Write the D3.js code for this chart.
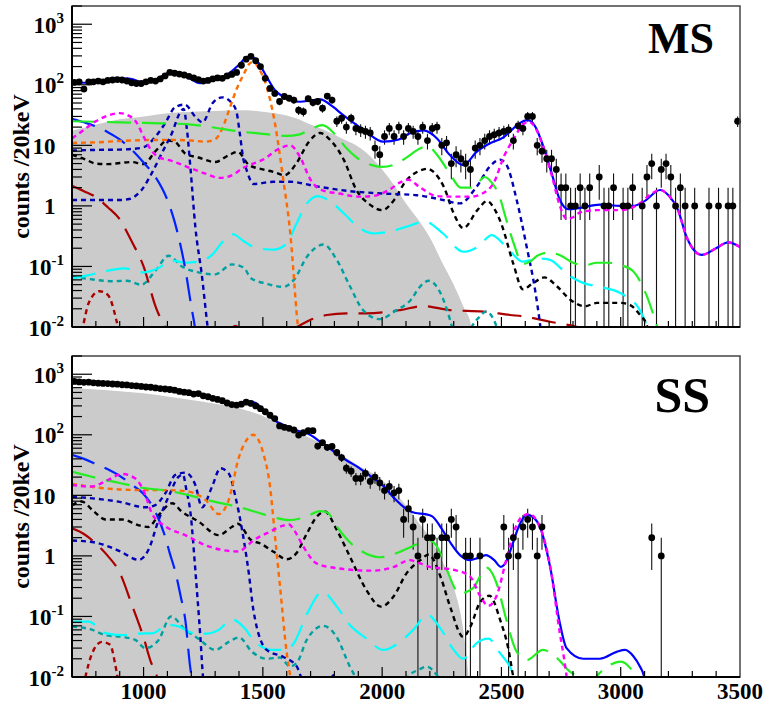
<!DOCTYPE html>
<html>
<head>
<meta charset="utf-8">
<script src="https://cdn.jsdelivr.net/npm/d3@7/dist/d3.min.js"></script>
<style>
  html, body { margin: 0; padding: 0; background: #fff; }
  svg text { font-family: "Liberation Serif", "Times New Roman", Times, serif; font-weight: bold; fill: #000; }
</style>
</head>
<body>
<svg id="chart" width="766" height="704"></svg>
<script>
// ---------- axis definitions ----------
const energyRange = [700, 3500];            // keV
const countRange = [0.01, 2000];            // counts / 20 keV (log)
const xMajorTicks = [1000, 1500, 2000, 2500, 3000, 3500];
const xMinorTicks = d3.range(800, 3500, 100);
const yDecades = [0.01, 0.1, 1, 10, 100, 1000];
const yDecadeBase = ["10", "10", "1", "10", "10", "10"];
const yDecadeExp = ["-2", "-1", "", "", "2", "3"];
const yAxisTitle = "counts /20keV";
const panelLabels = ["MS", "SS"];

// ---------- measured counts per 20 keV bin (bins centred at 710, 730, ... 3490 keV) ----------
const binCenters = d3.range(710, 3500, 20);
const countsMS = [
  110,112,85,112,112,115,112,118,120,122,
  120,115,108,105,105,112,118,115,125,140,
  160,155,150,145,138,130,122,115,118,125,
  130,128,140,148,160,210,265,295,250,200,
  128,87,72,53,64,60,56,38,36,59,
  51,53,41,65,56,25,28,20,28,19,
  18,17,16,9,7,14,19,14,20,14,
  19,17,14,20,12,19,20,10,11,5,
  7,6,5,4,9,10,12,14,15,16,
  17,18,12,21,19,30,30,10,8,6,
  6,4,2,2,1,1,2,1,2,0,
  3,1,1,2,0,1,1,2,0,1,
  3,5,1,4,5,3,1,2,1,0,
  1,0,0,1,0,1,0,1,1,25
];
const countsSS = [
  760,745,735,740,720,712,705,700,690,685,
  670,665,650,640,630,615,610,595,580,570,
  560,545,520,505,495,470,480,440,425,400,
  383,365,335,315,310,320,345,330,300,270,
  240,210,185,140,133,128,120,99,108,117,
  117,65,74,62,64,51,42,28,25,19,
  19,23,17,20,16,12,14,11,12,4,
  6,3,1,4,2,2,1,2,2,4,
  3,0,1,1,0,1,0,0,0,0,
  3,1,2,1,3,4,3,1,3,0,
  0,0,0,0,0,0,0,0,0,0,
  0,0,0,0,0,0,0,0,0,0,
  0,2,0,1,0,0,0,0,0,0,
  0,0,0,0,0,0,0,0,0,0
];

// ---------- fitted model curves, MS panel: [energy keV, counts/20keV] ----------
const msGray = [[700,17.5],[750,19.5],[800,22],[850,24.5],[900,27],[950,28.5],[1000,30],[1100,34],[1200,36],[1300,37],[1400,38],[1450,37.5],[1500,36],[1550,34],[1600,31],[1650,27],[1700,22],[1750,18.5],[1800,15],[1850,12],[1900,9.5],[1950,6.6],[2000,4.0],[2050,2.2],[2100,1.1],[2150,0.6],[2200,0.3],[2250,0.12],[2300,0.05],[2340,0.022],[2375,0.01],[2390,0.004]];
const msTotal = [[700,112],[750,108],[800,108],[850,115],[900,124],[930,128],[970,118],[1000,106],[1050,122],[1100,155],[1125,164],[1175,140],[1237,106],[1290,120],[1348,145],[1400,215],[1432,285],[1450,295],[1480,235],[1516,136],[1550,82],[1586,63],[1620,55],[1656,52.5],[1700,55],[1740,57.5],[1795,43],[1830,33],[1865,26],[1930,17],[2005,11.5],[2070,12.5],[2117,15.8],[2173,17.6],[2230,13],[2284,6.9],[2340,4.7],[2396,7.8],[2452,10.8],[2508,13.5],[2540,17.5],[2575,23],[2610,26],[2640,21],[2675,9.8],[2710,3.5],[2745,1.26],[2780,0.88],[2830,0.93],[2913,1.05],[3000,1.0],[3053,1.0],[3100,1.2],[3165,1.83],[3200,1.5],[3240,0.86],[3277,0.3],[3340,0.155],[3400,0.2],[3450,0.25],[3500,0.21]];
const msGreen = [[700,25],[800,24.5],[900,24],[1000,23.5],[1100,23],[1200,22],[1300,19.5],[1400,17],[1500,15.5],[1600,14.3],[1650,15],[1700,18.5],[1750,21.5],[1800,15.5],[1850,9],[1900,6],[1950,4.8],[2000,4.4],[2050,4.8],[2100,6.2],[2150,8.5],[2190,9.7],[2230,7],[2280,3.6],[2330,2.0],[2380,2.0],[2430,3.0],[2460,2.4],[2490,1.5],[2520,0.6],[2550,0.25],[2590,0.11],[2620,0.12],[2650,0.15],[2700,0.17],[2750,0.15],[2800,0.115],[2850,0.105],[2900,0.115],[2950,0.115],[3000,0.105],[3050,0.085],[3100,0.04],[3150,0.011],[3165,0.007]];
const msOrange = [[700,11],[800,11.2],[900,11.8],[1000,12.2],[1100,12.3],[1200,12],[1260,11.5],[1300,12.6],[1330,19],[1360,40],[1390,85],[1420,150],[1445,225],[1460,240],[1480,195],[1515,95],[1550,24],[1585,2.8],[1615,0.35],[1645,0.012],[1655,0.005]];
const msNavyA = [[700,8.2],[800,8.4],[900,8.5],[950,8.7],[1000,9.3],[1050,13.9],[1090,23],[1133,43],[1173,47],[1217,29.7],[1247,24],[1290,50],[1330,62],[1371,49],[1390,35],[1404,15],[1418,6],[1432,3.9],[1460,2.3],[1544,2.5],[1614,2.5],[1726,2.1],[1865,1.75],[2005,1.6],[2145,1.5],[2256,1.25],[2326,1.1],[2396,2.07],[2452,4.5],[2494,5.8],[2522,4.7],[2564,1.25],[2606,0.21],[2641,0.041],[2662,0.011],[2670,0.006]];
const msNavyB = [[700,1.25],[800,1.25],[900,1.25],[940,1.3],[990,1.8],[1035,3.5],[1077,7.5],[1119,16],[1150,33],[1168,40],[1182,18],[1197,4],[1217,0.45],[1245,0.068],[1266,0.012],[1275,0.006]];
const msBlueLong = [[700,27.5],[750,24],[800,20.5],[850,16.5],[900,12.5],[950,8.5],[1000,5.2],[1050,3.0],[1100,1.25],[1130,0.55],[1150,0.27],[1175,0.09],[1200,0.022],[1215,0.01],[1225,0.005]];
const msRedLong = [[700,2.15],[750,1.75],[800,1.4],[850,0.95],[900,0.6],[950,0.26],[1000,0.1],[1050,0.022],[1090,0.01],[1150,0.006],[1300,0.007],[1365,0.0095],[1385,0.0104],[1405,0.0095],[1500,0.007],[1600,0.0085],[1642,0.01],[1698,0.013],[1768,0.0158],[1850,0.0168],[1935,0.0168],[2075,0.019],[2173,0.0222],[2284,0.019],[2424,0.018],[2536,0.0158],[2592,0.015],[2704,0.0122],[2815,0.0101],[2840,0.0095]];
const msRedDot = [[730,0.006],[745,0.01],[770,0.025],[815,0.039],[850,0.034],[882,0.015],[892,0.01],[900,0.006]];
const msCyan = [[700,0.063],[770,0.072],[870,0.088],[920,0.093],[1000,0.08],[1060,0.093],[1120,0.125],[1175,0.115],[1230,0.12],[1290,0.16],[1330,0.25],[1375,0.34],[1420,0.26],[1475,0.2],[1545,0.19],[1600,0.24],[1640,0.5],[1685,1.1],[1730,1.45],[1780,1.2],[1840,0.75],[1905,0.43],[1965,0.35],[2020,0.37],[2100,0.45],[2180,0.55],[2255,0.35],[2340,0.175],[2400,0.21],[2460,0.33],[2520,0.21],[2590,0.12],[2650,0.135],[2700,0.13],[2780,0.072],[2850,0.052],[2900,0.047],[3000,0.036],[3080,0.019],[3110,0.01],[3120,0.007]];
const msTeal = [[700,0.068],[800,0.06],[870,0.057],[930,0.058],[990,0.05],[1050,0.085],[1105,0.15],[1160,0.1],[1230,0.08],[1300,0.074],[1370,0.108],[1420,0.095],[1450,0.064],[1515,0.052],[1585,0.046],[1630,0.06],[1685,0.145],[1755,0.23],[1810,0.128],[1865,0.047],[1920,0.019],[1990,0.0135],[2060,0.019],[2120,0.028],[2160,0.047],[2195,0.058],[2245,0.036],[2285,0.013],[2300,0.008],[2340,0.005],[2375,0.01],[2410,0.015],[2435,0.018],[2460,0.015],[2480,0.01],[2495,0.006]];
const msBlack = [[700,7],[750,6],[800,5],[850,4.9],[900,5.1],[950,5.3],[1000,4.9],[1050,8],[1100,12],[1130,11.5],[1175,7.3],[1230,6.3],[1300,5.3],[1360,7],[1395,7.8],[1440,4.8],[1500,4.0],[1550,3.6],[1590,3.2],[1640,5],[1690,11],[1740,16],[1780,12.5],[1840,5.7],[1890,1.9],[1950,1.04],[2000,0.85],[2050,1.25],[2100,2.6],[2150,3.7],[2190,4.1],[2220,3.5],[2260,2.0],[2300,0.75],[2340,0.43],[2400,0.86],[2440,1.2],[2470,0.9],[2500,0.5],[2550,0.11],[2590,0.042],[2630,0.052],[2680,0.066],[2730,0.048],[2790,0.028],[2850,0.022],[2900,0.025],[2950,0.025],[3000,0.025],[3040,0.023],[3080,0.016],[3110,0.0105],[3120,0.007]];
const msMagenta = [[700,13],[750,18],[800,25],[850,31],[900,34],[930,32],[970,24],[1000,14],[1030,8.5],[1060,6.5],[1120,5.5],[1190,4.3],[1260,3.4],[1320,2.9],[1370,3.2],[1420,4.3],[1460,5],[1500,5.8],[1570,8.9],[1615,10],[1655,6.5],[1700,2.7],[1750,1.8],[1820,1.6],[1900,1.42],[1960,1.45],[2030,1.85],[2080,2.5],[2110,2.7],[2160,2.0],[2230,1.45],[2300,1.42],[2370,1.42],[2420,1.6],[2470,2.5],[2510,6.5],[2550,12.5],[2590,22],[2615,24.5],[2640,20],[2675,9.5],[2710,3.3],[2745,1.0],[2775,0.6],[2800,0.65],[2830,0.78],[2900,0.85],[3000,0.85],[3080,1.1],[3130,1.6],[3165,1.83],[3200,1.5],[3240,0.86],[3277,0.3],[3340,0.155],[3400,0.2],[3450,0.25],[3500,0.21]];

// ---------- fitted model curves, SS panel ----------
const ssGray = [[700,590],[800,560],[900,525],[1000,484],[1100,430],[1200,375],[1300,325],[1400,275],[1450,241],[1500,205],[1600,130],[1700,88],[1800,55],[1865,38],[1900,31],[2000,18],[2050,11.5],[2100,6.8],[2150,3.7],[2200,2.0],[2250,0.85],[2300,0.3],[2340,0.06],[2355,0.02],[2362,0.01],[2370,0.004]];
const ssTotal = [[700,753],[800,720],[900,680],[1000,622],[1100,560],[1200,480],[1237,454],[1300,390],[1376,310],[1410,322],[1440,352],[1465,340],[1500,265],[1544,178],[1600,138],[1650,115],[1690,104],[1750,72],[1800,52],[1850,38],[1900,29],[1950,21],[2000,15],[2050,9],[2100,6],[2140,5.1],[2180,4.9],[2210,4.5],[2250,2.8],[2284,1.7],[2330,1.0],[2368,0.85],[2400,0.92],[2435,1.03],[2470,0.85],[2497,0.66],[2520,0.8],[2545,1.5],[2575,3.2],[2606,4.8],[2635,4.3],[2662,3.0],[2704,0.66],[2745,0.077],[2773,0.03],[2843,0.02],[2913,0.02],[2983,0.026],[3018,0.028],[3053,0.022],[3080,0.015],[3097,0.0105],[3105,0.007]];
const ssGreen = [[700,24.6],[800,19.5],[900,16],[1000,13.2],[1100,12],[1200,9.8],[1300,7.8],[1400,6.4],[1500,4.9],[1550,4.3],[1610,3.9],[1680,4.4],[1740,5.5],[1770,5.2],[1820,2.7],[1870,1.6],[1910,1.22],[1990,0.95],[2075,1.17],[2145,1.55],[2190,1.85],[2230,1.42],[2270,0.6],[2325,0.24],[2380,0.29],[2438,0.64],[2480,0.35],[2520,0.09],[2560,0.028],[2605,0.019],[2675,0.028],[2730,0.021],[2790,0.012],[2830,0.0098],[2870,0.008],[2910,0.0115],[2955,0.0158],[3000,0.018],[3040,0.014],[3060,0.0105],[3080,0.007]];
const ssOrange = [[700,15.5],[800,13.5],[900,12.5],[1000,12.2],[1100,12.2],[1190,11.5],[1260,8.4],[1315,4.9],[1357,8.4],[1400,43],[1440,90],[1460,100],[1480,85],[1502,49],[1530,14],[1551,2.1],[1572,0.31],[1600,0.025],[1615,0.01],[1625,0.005]];
const ssNavyA = [[700,9.5],[800,8.8],[900,7.8],[1007,6.35],[1049,6.9],[1091,10.8],[1133,21.7],[1175,23.7],[1217,14.8],[1245,6.35],[1287,13.9],[1322,28],[1357,23],[1385,9.5],[1413,2.68],[1441,0.52],[1460,0.13],[1516,0.028],[1586,0.0214],[1642,0.015],[1660,0.01],[1700,0.006],[1770,0.008],[1800,0.0108],[1830,0.008],[1860,0.005]];
const ssNavyB = [[700,1.8],[800,1.65],[900,1.2],[980,0.86],[1020,1.25],[1063,3.9],[1105,9.5],[1145,20],[1165,22],[1180,12],[1197,5],[1217,0.58],[1238,0.046],[1250,0.009],[1258,0.005]];
const ssBlueLong = [[700,46.5],[750,40],[800,33],[850,27],[900,21],[950,15],[1000,10.5],[1050,5.3],[1090,2.1],[1110,1.1],[1133,0.55],[1155,0.22],[1175,0.087],[1195,0.015],[1205,0.008]];
const ssRedLong = [[700,2.85],[750,2.3],[800,1.6],[850,1.0],[900,0.53],[950,0.16],[1000,0.045],[1030,0.018],[1055,0.0105],[1065,0.007]];
const ssRedDot = [[740,0.005],[756,0.01],[785,0.025],[825,0.038],[860,0.034],[880,0.017],[892,0.009],[900,0.005]];
const ssCyan = [[700,0.082],[770,0.082],[840,0.053],[910,0.049],[980,0.052],[1040,0.053],[1100,0.073],[1150,0.068],[1200,0.054],[1260,0.052],[1315,0.06],[1370,0.089],[1425,0.063],[1460,0.041],[1540,0.028],[1590,0.028],[1630,0.036],[1685,0.11],[1750,0.255],[1810,0.145],[1865,0.072],[1935,0.043],[2005,0.028],[2075,0.038],[2130,0.06],[2190,0.106],[2245,0.063],[2300,0.028],[2340,0.02],[2395,0.036],[2445,0.043],[2495,0.0245],[2535,0.015],[2555,0.0098],[2570,0.007]];
const ssTeal = [[700,0.068],[785,0.06],[840,0.049],[910,0.046],[965,0.041],[1007,0.03],[1063,0.041],[1115,0.1],[1175,0.06],[1230,0.043],[1300,0.028],[1357,0.038],[1400,0.045],[1455,0.026],[1516,0.02],[1572,0.021],[1614,0.015],[1642,0.017],[1684,0.041],[1753,0.07],[1809,0.046],[1865,0.0148],[1890,0.0098],[1950,0.005],[2080,0.007],[2117,0.011],[2150,0.013],[2187,0.0148],[2229,0.0108],[2250,0.008]];
const ssBlack = [[700,6.9],[740,7.9],[790,5.5],[840,4.0],[910,4.0],[980,3.2],[1020,3.0],[1063,4.7],[1120,7.4],[1160,5.4],[1230,3.7],[1315,2.2],[1370,3.0],[1395,3.4],[1450,1.83],[1490,1.6],[1545,1.17],[1600,0.88],[1640,1.1],[1685,2.36],[1725,4.4],[1760,5.4],[1810,2.68],[1865,0.97],[1935,0.27],[1995,0.145],[2050,0.22],[2100,0.5],[2160,0.85],[2195,1.05],[2245,0.45],[2285,0.145],[2340,0.046],[2370,0.068],[2410,0.17],[2450,0.22],[2495,0.087],[2530,0.028],[2550,0.01],[2560,0.007]];
const ssMagenta = [[700,14.8],[780,14],[850,17.9],[910,22.5],[965,19],[1005,10.8],[1035,5],[1090,3.1],[1175,2.2],[1260,1.5],[1330,1.25],[1400,1.18],[1430,1.42],[1460,1.8],[1515,2.35],[1590,3.2],[1610,3.3],[1630,2.7],[1670,1.42],[1725,0.75],[1820,0.62],[1960,0.57],[2050,0.66],[2115,0.85],[2160,0.75],[2200,0.66],[2300,0.59],[2370,0.45],[2410,0.22],[2445,0.15],[2480,0.22],[2520,0.86],[2550,2.35],[2590,4.6],[2615,4.9],[2660,3.1],[2705,0.66],[2745,0.052],[2762,0.021],[2775,0.009],[2785,0.005]];

// ---------- drawing styles ----------
const LONG = "24,11", SHORT = "5,4";
const curveStyles = {
  redDot:   { stroke: "#aa0000", width: 2.4, dash: SHORT },
  redLong:  { stroke: "#aa0000", width: 2.2, dash: LONG },
  teal:     { stroke: "#00a0a0", width: 2.4, dash: SHORT },
  cyan:     { stroke: "#00ffff", width: 2.2, dash: LONG },
  black:    { stroke: "#000000", width: 2.4, dash: SHORT },
  navyB:    { stroke: "#0000b4", width: 2.4, dash: SHORT },
  navyA:    { stroke: "#0000b4", width: 2.4, dash: SHORT },
  blueLong: { stroke: "#0022ff", width: 2.2, dash: LONG },
  orange:   { stroke: "#ff6a00", width: 2.4, dash: SHORT },
  green:    { stroke: "#22ee22", width: 2.2, dash: LONG },
  magenta:  { stroke: "#ff00ff", width: 2.4, dash: SHORT }
};
const totalStyle = { stroke: "#0000ff", width: 2.2 };
const grayFill = "#cbcbcb";

const panels = [
  { label: panelLabels[0], top: 6, bottom: 327, showXLabels: false, counts: countsMS,
    gray: msGray, total: msTotal,
    curves: { redDot: msRedDot, redLong: msRedLong, teal: msTeal, cyan: msCyan, black: msBlack,
              navyB: msNavyB, navyA: msNavyA, blueLong: msBlueLong, orange: msOrange,
              green: msGreen, magenta: msMagenta },
    labelX: 714, labelY: 53, labelSize: 44 },
  { label: panelLabels[1], top: 356, bottom: 677, showXLabels: true, counts: countsSS,
    gray: ssGray, total: ssTotal,
    curves: { redDot: ssRedDot, redLong: ssRedLong, teal: ssTeal, cyan: ssCyan, black: ssBlack,
              navyB: ssNavyB, navyA: ssNavyA, blueLong: ssBlueLong, orange: ssOrange,
              green: ssGreen, magenta: ssMagenta },
    labelX: 710, labelY: 412, labelSize: 50 }
];

// ---------- rendering ----------
const svg = d3.select("#chart");
const left = 72, right = 740;
const x = d3.scaleLinear().domain(energyRange).range([left, right]);

panels.forEach((p, pi) => {
  const y = d3.scaleLog().domain(countRange).range([p.bottom, p.top]);
  const clipId = "clip" + pi;
  svg.append("clipPath").attr("id", clipId)
    .append("rect").attr("x", left).attr("y", p.top)
    .attr("width", right - left).attr("height", p.bottom - p.top);

  const plot = svg.append("g").attr("clip-path", `url(#${clipId})`);

  // filled background component
  const area = d3.area()
    .x(d => x(d[0])).y0(p.bottom + 40).y1(d => y(d[1]))
    .curve(d3.curveMonotoneX);
  plot.append("path").datum(p.gray).attr("d", area).attr("fill", grayFill);

  // data with Poisson error bars
  const bins = binCenters.map((e, i) => [e, p.counts[i]]).filter(d => d[1] > 0);
  plot.append("g").selectAll("line").data(bins).join("line")
    .attr("x1", d => x(d[0])).attr("x2", d => x(d[0]))
    .attr("y1", d => y(d[1] + Math.sqrt(d[1])))
    .attr("y2", d => y(Math.max(d[1] - Math.sqrt(d[1]), 1e-4)))
    .attr("stroke", "#111").attr("stroke-width", 1.1);
  svg.append("g").selectAll("circle").data(bins).join("circle")
    .attr("cx", d => x(d[0])).attr("cy", d => y(d[1]))
    .attr("r", 3.4).attr("fill", "#000");

  const line = d3.line().x(d => x(d[0])).y(d => y(d[1])).curve(d3.curveMonotoneX);

  // total fit
  plot.append("path").datum(p.total).attr("d", line)
    .attr("fill", "none").attr("stroke", totalStyle.stroke).attr("stroke-width", totalStyle.width);

  // individual components
  Object.keys(curveStyles).forEach(k => {
    const s = curveStyles[k];
    plot.append("path").datum(p.curves[k]).attr("d", line)
      .attr("fill", "none").attr("stroke", s.stroke).attr("stroke-width", s.width)
      .attr("stroke-dasharray", s.dash);
  });

  // frame
  svg.append("rect").attr("x", left).attr("y", p.top)
    .attr("width", right - left).attr("height", p.bottom - p.top)
    .attr("fill", "none").attr("stroke", "#444").attr("stroke-width", 1.5);
  svg.append("line").attr("x1", left).attr("x2", left).attr("y1", p.top).attr("y2", p.bottom)
    .attr("stroke", "#000").attr("stroke-width", 2);
  svg.append("line").attr("x1", left).attr("x2", right).attr("y1", p.bottom).attr("y2", p.bottom)
    .attr("stroke", "#000").attr("stroke-width", 2);

  // y ticks (log): decades long, 2..9 short
  const axisG = svg.append("g").attr("stroke", "#000").attr("stroke-width", 1.2);
  yDecades.forEach(v => {
    axisG.append("line").attr("x1", left).attr("x2", left + 20)
      .attr("y1", y(v)).attr("y2", y(v));
    d3.range(2, 10).forEach(m => {
      const vv = v * m;
      if (vv <= countRange[1]) {
        axisG.append("line").attr("x1", left).attr("x2", left + 10)
          .attr("y1", y(vv)).attr("y2", y(vv));
      }
    });
  });
  // x ticks
  xMinorTicks.forEach(e => {
    const major = xMajorTicks.includes(e);
    axisG.append("line").attr("x1", x(e)).attr("x2", x(e))
      .attr("y1", p.bottom).attr("y2", p.bottom - (major ? 10 : 6));
  });

  // y labels
  yDecades.forEach((v, i) => {
    const t = svg.append("text").attr("y", y(v) + 8.5).attr("font-size", 23)
      .attr("text-anchor", "end");
    if (yDecadeExp[i]) {
      t.attr("x", 64);
      t.append("tspan").text(yDecadeBase[i]);
      t.append("tspan").attr("font-size", 15).attr("dy", -10).text(yDecadeExp[i]);
    } else {
      t.attr("x", 55.5).text(yDecadeBase[i]);
    }
  });

  // y title
  svg.append("text")
    .attr("transform", `translate(29,${(p.top + p.bottom) / 2}) rotate(-90)`)
    .attr("text-anchor", "middle").attr("font-size", 24).text(yAxisTitle);

  // x labels
  if (p.showXLabels) {
    xMajorTicks.forEach(e => {
      svg.append("text").attr("x", x(e)).attr("y", 699).attr("text-anchor", "middle")
        .attr("font-size", 23).text(e);
    });
  }

  // panel label
  svg.append("text").attr("x", p.labelX).attr("y", p.labelY).attr("text-anchor", "end")
    .attr("font-size", p.labelSize).text(p.label);
});
</script>
</body>
</html>
